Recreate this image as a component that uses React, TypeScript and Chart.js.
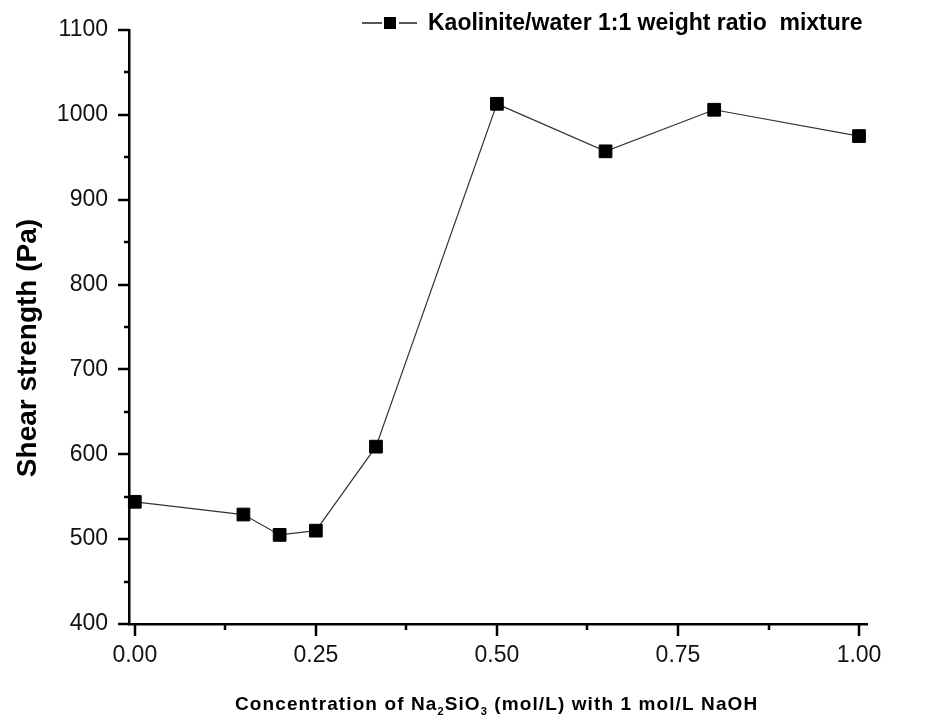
import React, { useEffect, useRef } from "react";
import { Chart, registerables } from "chart.js";

Chart.register(...registerables);

const concentrations = [0, 0.15, 0.2, 0.25, 0.333, 0.5, 0.65, 0.8, 1.0];
const shearStrength = [544, 529, 505, 510, 609, 1013, 957, 1006, 975];
const xMajorTicks = [0, 0.25, 0.5, 0.75, 1.0];
const xMinorTicks = [0.125, 0.375, 0.625, 0.875];
const yMajorTicks = [400, 500, 600, 700, 800, 900, 1000, 1100];
const yMinorTicks = [450, 550, 650, 750, 850, 950, 1050];
const seriesLabel = "Kaolinite/water 1:1 weight ratio  mixture";
const yTitle = "Shear strength (Pa)";
const xTitleParts = [
  { text: "Concentration of Na", sub: false },
  { text: "2", sub: true },
  { text: "SiO", sub: false },
  { text: "3", sub: true },
  { text: " (mol/L) with 1 mol/L NaOH", sub: false },
];

const FONT = "'Liberation Sans', Arial, sans-serif";

const decorPlugin = {
  id: "decor",
  afterDraw(chart: any) {
    const ctx = chart.ctx as CanvasRenderingContext2D;
    const xs = chart.scales.x;
    const ys = chart.scales.y;
    const area = chart.chartArea;
    ctx.save();
    ctx.strokeStyle = "#000";
    ctx.lineWidth = 2.5;
    const drawX = (vals: number[], len: number) => {
      for (const v of vals) {
        const px = Math.round(xs.getPixelForValue(v));
        ctx.beginPath();
        ctx.moveTo(px, area.bottom);
        ctx.lineTo(px, area.bottom + len);
        ctx.stroke();
      }
    };
    const drawY = (vals: number[], len: number) => {
      for (const v of vals) {
        const py = Math.round(ys.getPixelForValue(v));
        ctx.beginPath();
        ctx.moveTo(area.left, py);
        ctx.lineTo(area.left - len, py);
        ctx.stroke();
      }
    };
    drawX(xMajorTicks, 12);
    drawX(xMinorTicks, 6);
    drawY(yMajorTicks, 11);
    drawY(yMinorTicks, 5);

    // y title
    ctx.fillStyle = "#000";
    ctx.font = `bold 28px ${FONT}`;
    ctx.textAlign = "center";
    ctx.textBaseline = "middle";
    ctx.save();
    ctx.translate(28, 348);
    ctx.rotate(-Math.PI / 2);
    ctx.fillText(yTitle, 0, 0);
    ctx.restore();

    // x title with subscripts
    ctx.textAlign = "left";
    ctx.textBaseline = "alphabetic";
    (ctx as any).letterSpacing = "1.1px";
    let cx = 235;
    const base = 710;
    for (const part of xTitleParts) {
      ctx.font = part.sub ? `bold 11px ${FONT}` : `bold 19px ${FONT}`;
      const y = part.sub ? base + 5 : base;
      ctx.fillText(part.text, cx, y);
      cx += ctx.measureText(part.text).width;
    }
    (ctx as any).letterSpacing = "0px";

    // legend
    ctx.strokeStyle = "#222";
    ctx.lineWidth = 1.5;
    ctx.beginPath();
    ctx.moveTo(362, 23);
    ctx.lineTo(382, 23);
    ctx.moveTo(399, 23);
    ctx.lineTo(417, 23);
    ctx.stroke();
    ctx.fillStyle = "#000";
    ctx.fillRect(384, 17, 12, 12);
    ctx.font = `bold 23px ${FONT}`;
    ctx.textBaseline = "middle";
    ctx.fillText(seriesLabel, 428, 24);
    ctx.restore();
  },
};

export default function App() {
  const ref = useRef<HTMLCanvasElement | null>(null);
  useEffect(() => {
    if (!ref.current) return;
    const chart = new Chart(ref.current, {
      type: "scatter",
      data: {
        datasets: [
          {
            label: seriesLabel,
            data: concentrations.map((x, i) => ({ x, y: shearStrength[i] })),
            showLine: true,
            borderColor: "#333",
            borderWidth: 1.2,
            pointStyle: "rect",
            pointRadius: 9,
            pointBackgroundColor: "#000",
            pointBorderColor: "#000",
            pointBorderWidth: 1,
            clip: false as any,
          },
        ],
      },
      options: {
        animation: false,
        responsive: true,
        maintainAspectRatio: false,
        layout: { padding: { top: 30, right: 73, left: 0, bottom: 0 } },
        plugins: {
          legend: { display: false },
          tooltip: { enabled: false },
        },
        scales: {
          x: {
            type: "linear",
            min: -0.008,
            max: 1.011,
            afterBuildTicks: (s: any) => {
              s.ticks = xMajorTicks.map((v) => ({ value: v }));
            },
            afterFit: (s: any) => {
              s.height = 95;
            },
            grid: { display: false, drawTicks: true, tickLength: 15 },
            border: { display: true, color: "#000", width: 2.5 },
            ticks: {
              autoSkip: false,
              maxRotation: 0,
              padding: 3,
              color: "#111",
              font: { family: FONT, size: 23 },
              callback: (v: any) => Number(v).toFixed(2),
            },
          },
          y: {
            type: "linear",
            min: 400,
            max: 1100,
            afterBuildTicks: (s: any) => {
              s.ticks = yMajorTicks.map((v) => ({ value: v }));
            },
            afterFit: (s: any) => {
              s.width = 129;
            },
            grid: { display: false, drawTicks: true, tickLength: 18 },
            border: { display: true, color: "#000", width: 2.5 },
            ticks: {
              padding: 3,
              color: "#111",
              font: { family: FONT, size: 23 },
              callback: (v: any) => String(v),
            },
          },
        },
      },
      plugins: [decorPlugin],
    });
    return () => chart.destroy();
  }, []);
  return (
    <div style={{ position: "fixed", left: 0, top: 0, width: 940, height: 719, background: "#fff" }}>
      <canvas ref={ref} />
    </div>
  );
}
